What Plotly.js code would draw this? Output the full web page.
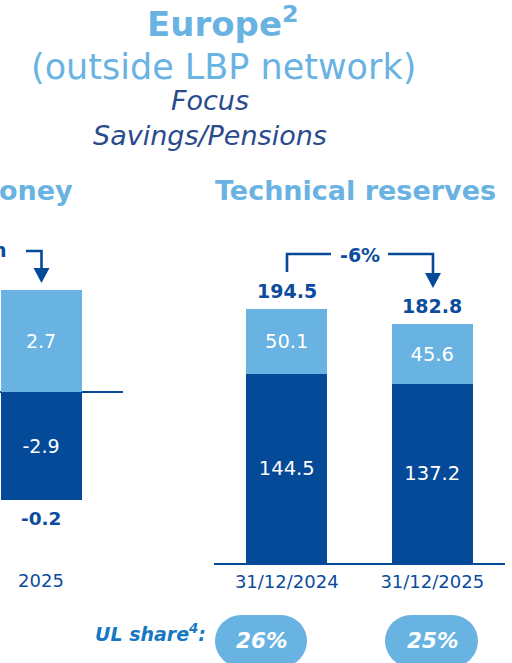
<!DOCTYPE html>
<html>
<head>
<meta charset="utf-8">
<script src="https://cdn.plot.ly/plotly-3.0.1.min.js"></script>
<style>html,body{margin:0;padding:0;background:#fff;}#chart{width:512px;height:663px;}</style>
</head>
<body>
<div id="chart"></div>
<script>
// ---- data ----
var moneyCategories = ["2025"];
var moneyPositive = [2.7];
var moneyNegative = [-2.9];
var moneyTotals = [-0.2];
var reserveCategories = ["31/12/2024", "31/12/2025"];
var reserveUnitLinked = [50.1, 45.6];
var reserveEuro = [144.5, 137.2];
var reserveTotals = [194.5, 182.8];
var reserveChangeLabel = "-6%";
var ulShareLabels = ["26%", "25%"];

// ---- styles ----
var LIGHT = "#69B3E3";
var DARK = "#044A98";
var TXT = "#0C4C9C";
var FONT = "DejaVu Sans, Open Sans, sans-serif";
var W = 512, H = 663;
function px(x){ return x / W; }
function py(y){ return 1 - y / H; }

var plotTop = 230, plotBottom = 563;
var yDomain = [py(plotBottom), py(plotTop)];
var leftScale = 37.5, leftZero = 391.5;
var rightScale = 1.306;

function barTrace(x, y, xa, ya, w, color, size){
  return {type:"bar", x:x, y:y, xaxis:xa, yaxis:ya, width:w,
    marker:{color:color, line:{width:0}}, texttemplate:"%{y:.1f}", textposition:"inside",
    insidetextanchor:"middle", constraintext:"none", textfont:{color:"#fff", size:size, family:FONT},
    hoverinfo:"skip"};
}
var traces = [
  barTrace([0], moneyNegative, "x", "y", 1, DARK, 19),
  barTrace([0], moneyPositive, "x", "y", 1, LIGHT, 19),
  barTrace([0,1], reserveEuro, "x2", "y2", 0.555, DARK, 19.5),
  barTrace([0,1], reserveUnitLinked, "x2", "y2", 0.555, LIGHT, 19.5)
];

var leftWidthPx = 123, barPx = 81;
var la = -41 / barPx;
var annotations = [];
function ann(text, x, y, size, color, opts){
  var a = {text:text, xref:"paper", yref:"paper", x:px(x), y:py(y), xanchor:"center", yanchor:"middle",
           showarrow:false, font:{family:FONT, size:size, color:color}};
  if (opts) for (var k in opts) a[k] = opts[k];
  annotations.push(a);
}
// titles
ann("<b>Europe<sup>2</sup></b>", 223, 22, 34, LIGHT);
ann("(outside LBP network)", 223, 67, 35, LIGHT);
ann("<i>Focus<br>Savings/Pensions</i>", 210, 118, 27, "#2B4B8E");
ann("<b>oney</b>", 75, 191, 27, LIGHT, {xanchor:"right"});
ann("<b>Technical reserves</b>", 355, 191, 27, LIGHT);
ann("<b>n</b>", 9, 250, 19, TXT, {xanchor:"right"});

// totals
annotations.push({text:"<b>" + moneyTotals[0].toFixed(1) + "</b>", xref:"x", yref:"y", x:0,
  y:moneyNegative[0], yanchor:"top", yshift:-6, showarrow:false,
  font:{family:FONT, size:18.5, color:TXT}});
for (var i = 0; i < reserveCategories.length; i++) {
  annotations.push({text:"<b>" + reserveTotals[i].toFixed(1) + "</b>", xref:"x2", yref:"y2", x:i,
    y:reserveEuro[i] + reserveUnitLinked[i], yanchor:"bottom", yshift:5, showarrow:false,
    font:{family:FONT, size:19, color:TXT}});
}
ann("<b>" + reserveChangeLabel + "</b>", 360, 255, 19, TXT);

// UL share
ann("<b><i>UL share<sup>4</sup>:</i></b>", 150, 633, 19, "#1678C2");
ann("<b><i>" + ulShareLabels[0] + "</i></b>", 261, 640, 21.5, "#fff");
ann("<b><i>" + ulShareLabels[1] + "</i></b>", 432, 640, 21.5, "#fff");

// shapes
var shapes = [];
function P(x, y){ return px(x).toFixed(5) + "," + py(y).toFixed(5); }
var lineStyle = {color:DARK, width:2.6};
// -6% bracket
shapes.push({type:"path", xref:"paper", yref:"paper",
  path:"M" + P(287,272) + " L" + P(287,254) + " L" + P(331,254), line:lineStyle});
shapes.push({type:"path", xref:"paper", yref:"paper",
  path:"M" + P(388,254) + " L" + P(433,254) + " L" + P(433,275), line:lineStyle});
shapes.push({type:"path", xref:"paper", yref:"paper",
  path:"M" + P(425,273) + " L" + P(441,273) + " L" + P(433,288) + " Z",
  fillcolor:DARK, line:{width:0}});
// left bracket
shapes.push({type:"path", xref:"paper", yref:"paper",
  path:"M" + P(26,251) + " L" + P(41.5,251) + " L" + P(41.5,270), line:lineStyle});
shapes.push({type:"path", xref:"paper", yref:"paper",
  path:"M" + P(33.5,268) + " L" + P(49.5,268) + " L" + P(41.5,283) + " Z",
  fillcolor:DARK, line:{width:0}});
// pills
function pill(x0, x1, y0, y1){
  var r = (y1 - y0) / 2;
  shapes.push({type:"circle", xref:"paper", yref:"paper", x0:px(x0), x1:px(x0+2*r), y0:py(y1), y1:py(y0),
    fillcolor:LIGHT, line:{width:0}, layer:"below"});
  shapes.push({type:"circle", xref:"paper", yref:"paper", x0:px(x1-2*r), x1:px(x1), y0:py(y1), y1:py(y0),
    fillcolor:LIGHT, line:{width:0}, layer:"below"});
  shapes.push({type:"rect", xref:"paper", yref:"paper", x0:px(x0+r), x1:px(x1-r), y0:py(y1), y1:py(y0),
    fillcolor:LIGHT, line:{width:0}, layer:"below"});
}
pill(215, 307, 615, 667);
pill(385, 478, 615, 667);

var tickCommon = {showgrid:false, zeroline:false, ticks:"outside", ticklen:1, tickcolor:"rgba(0,0,0,0)",
  fixedrange:true, tickfont:{family:FONT, size:18, color:TXT}};
var layout = {
  width:W, height:H, margin:{l:0, r:0, t:0, b:0}, paper_bgcolor:"#fff", plot_bgcolor:"rgba(0,0,0,0)",
  barmode:"relative", showlegend:false, bargap:0,
  xaxis:Object.assign({domain:[0, leftWidthPx/W], range:[la, la + leftWidthPx/barPx], tickvals:[0],
    ticktext:moneyCategories, showline:false, anchor:"y"}, tickCommon),
  yaxis:{domain:yDomain, range:[-(plotBottom-leftZero)/leftScale, (leftZero-plotTop)/leftScale],
    showgrid:false, showticklabels:false, zeroline:true, zerolinecolor:DARK, zerolinewidth:2, fixedrange:true, anchor:"x"},
  xaxis2:Object.assign({domain:[214/W, 505/W], range:[-0.5, 1.5], tickvals:[0,1], ticktext:reserveCategories,
    showline:true, linecolor:DARK, linewidth:2, anchor:"y2"}, tickCommon),
  yaxis2:{domain:yDomain, range:[0, (plotBottom-plotTop)/rightScale], showgrid:false, showticklabels:false,
    zeroline:false, fixedrange:true, anchor:"x2"},
  annotations:annotations, shapes:shapes
};
Plotly.newPlot("chart", traces, layout, {displayModeBar:false, staticPlot:true});
</script>
</body>
</html>
